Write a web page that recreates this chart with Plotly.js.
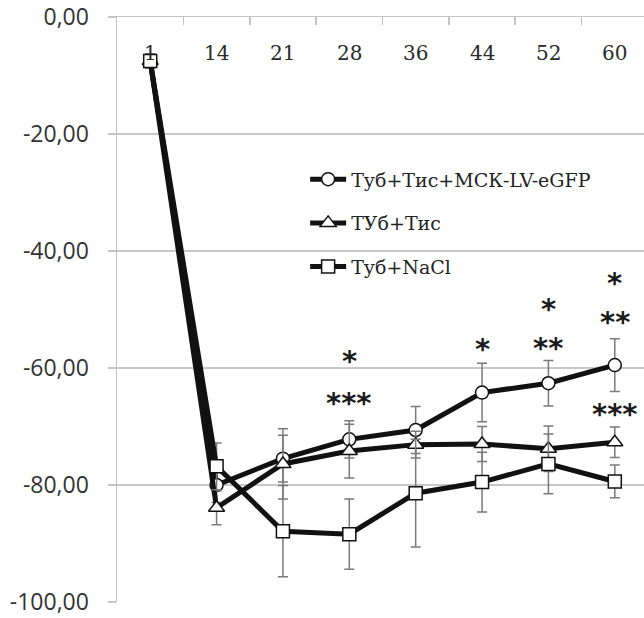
<!DOCTYPE html>
<html><head><meta charset="utf-8">
<script src="https://cdn.plot.ly/plotly-3.0.1.min.js"></script>
<style>html,body{margin:0;padding:0;background:#fff}#chart{width:644px;height:618px}</style>
</head><body><div id="chart"></div>
<script>
const days = ['1','14','21','28','36','44','52','60'];
const seriesNames = ['Туб+Тис+МСК-LV-eGFP','ТУб+Тис','Туб+NaCl'];
const mskValues = [-7.5,-80.0,-75.5,-72.2,-70.6,-64.2,-62.6,-59.5];
const mskErrors = [1.2,3.0,4.0,3.2,4.0,5.0,3.9,4.5];
const ticValues = [-7.5,-83.9,-76.4,-74.2,-73.1,-73.0,-73.8,-72.7];
const ticErrors = [1.2,2.9,6.0,4.6,2.3,3.0,3.9,2.6];
const naclValues = [-7.5,-76.8,-87.9,-88.4,-81.4,-79.5,-76.4,-79.4];
const naclErrors = [1.2,4.0,7.8,6.0,9.2,5.1,5.1,2.8];
const sigDays = ['28','28','44','52','52','60','60','60'];
const sigLabels = ['*','***','*','*','**','*','**','***'];
const sigLevels = [-58.3,-65.4,-56.3,-49.4,-56.0,-44.9,-51.7,-67.3];
const yTicks = [0,-20,-40,-60,-80,-100];
const yTickLabels = ['0,00','-20,00','-40,00','-60,00','-80,00','-100,00'];

const symbols = ['circle','triangle-up','square'];
const valueSets = [mskValues, ticValues, naclValues];
const errorSets = [mskErrors, ticErrors, naclErrors];
const markerSizes = [13, 14, 13];

const traces = seriesNames.map((name, i) => ({
  type: 'scatter', mode: 'lines+markers', name: name,
  x: days, y: valueSets[i], legendgroup: 'g' + i,
  line: {color: '#111', width: 5},
  marker: {symbol: symbols[i], size: markerSizes[i], color: '#fff', line: {color: '#111', width: 1.5}},
  error_y: {type: 'data', array: errorSets[i], visible: true, color: '#7a7a7a', thickness: 1.5, width: 5}
}));

const annotations = [];
days.forEach((d, k) => annotations.push({
  x: k, xref: 'x', y: 1, yref: 'paper', yanchor: 'middle', yshift: -36,
  text: d, showarrow: false, font: {family: 'DejaVu Serif', size: 20, color: '#2a2a2a'}
}));
sigDays.forEach((d, i) => annotations.push({
  x: days.indexOf(d), xref: 'x', y: sigLevels[i], yref: 'y', yanchor: 'middle', yshift: -3,
  text: sigLabels[i], showarrow: false,
  font: {family: 'DejaVu Sans', size: 29, weight: 'bold', color: '#1a1a1a'}
}));

const layout = {
  width: 644, height: 618,
  margin: {l: 117, r: 0, t: 17, b: 16},
  paper_bgcolor: '#fff', plot_bgcolor: '#fff',
  showlegend: true,
  legend: {x: 0.357, y: 0.755, xanchor: 'left', yanchor: 'top', bgcolor: 'rgba(0,0,0,0)',
    traceorder: 'grouped', tracegroupgap: 16, itemwidth: 36,
    font: {family: 'DejaVu Serif', size: 19, color: '#222'}},
  xaxis: {type: 'category', categoryorder: 'array', categoryarray: days,
    range: [-0.5, 7.44], side: 'top', showline: true, linecolor: '#c4c4c4', linewidth: 1.5,
    tickson: 'boundaries', ticks: 'inside', ticklen: 8, tickwidth: 1.5, tickcolor: '#c4c4c4',
    showticklabels: false, showgrid: false, zeroline: false, automargin: false},
  yaxis: {range: [-100, 0], tickvals: yTicks, ticktext: yTickLabels,
    ticks: 'outside', ticklen: 8, tickwidth: 1.5, tickcolor: '#c4c4c4',
    showline: true, linecolor: '#c4c4c4', linewidth: 1.5,
    gridcolor: '#c8c8c8', gridwidth: 1.5, zeroline: false,
    ticklabelstandoff: 14, ticklabeloverflow: 'allow', automargin: false,
    tickfont: {family: 'Open Sans', size: 23, color: '#333'}},
  annotations: annotations
};

Plotly.newPlot('chart', traces, layout, {displayModeBar: false, staticPlot: true});
</script>
</body></html>
